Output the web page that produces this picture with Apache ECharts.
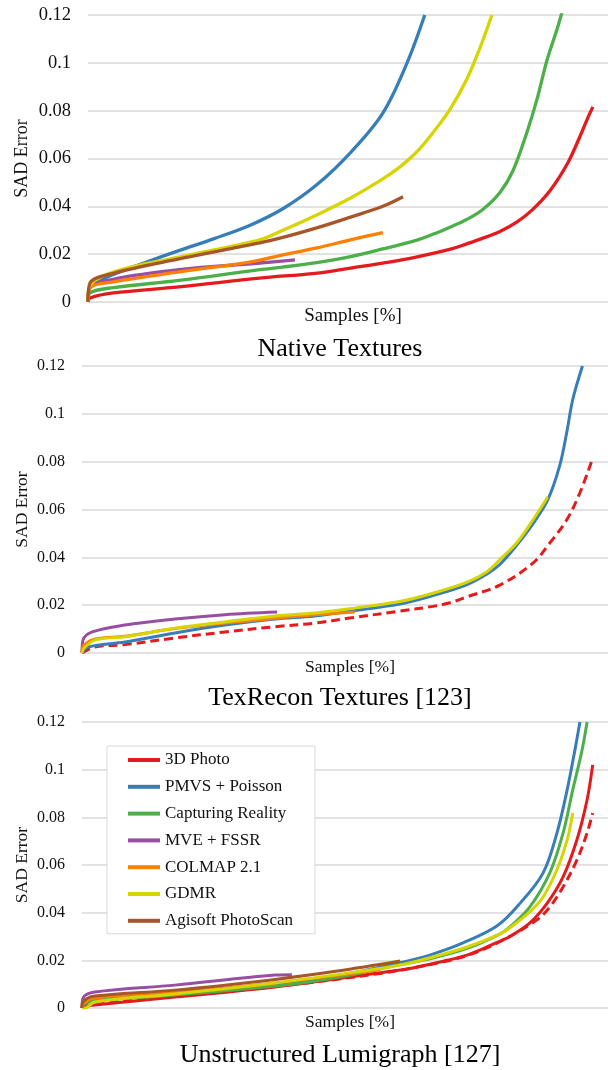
<!DOCTYPE html>
<html>
<head>
<meta charset="utf-8">
<script src="https://cdn.jsdelivr.net/npm/echarts@6/dist/echarts.min.js"></script>
<style>
  html, body { margin: 0; padding: 0; background: #fff; }
  #chart { width: 608px; height: 1070px; }
</style>
</head>
<body>
<div id="chart"></div>
<script>
// ---------- DATA ([samples %, SAD error]) ----------
const names = ['3D Photo', 'PMVS + Poisson', 'Capturing Reality', 'MVE + FSSR', 'COLMAP 2.1', 'GDMR', 'Agisoft PhotoScan'];
const panelTitles = ['Native Textures', 'TexRecon Textures [123]', 'Unstructured Lumigraph [127]'];
const yTicks = [0, 0.02, 0.04, 0.06, 0.08, 0.1, 0.12];

// Panel 1 : Native Textures
const red1 = [[0,0],[0.4,0.0017],[5,0.0038],[18,0.0063],[34,0.010],[45,0.012],[52,0.0142],[58.4,0.0163],[65,0.0188],[72,0.0222],[75,0.0243],[78,0.0265],[81.6,0.0295],[85,0.0335],[88,0.0385],[91.5,0.0465],[95,0.058],[97.4,0.069],[99,0.077],[100,0.0816]];
const blue1 = [[0,0],[0.3,0.0055],[1,0.0075],[5,0.0115],[12,0.017],[18,0.0215],[25,0.0265],[32,0.032],[38.6,0.039],[45.3,0.049],[52,0.0625],[58.4,0.079],[63.2,0.100],[66.7,0.12]];
const green1 = [[0,0],[0.4,0.0038],[5,0.006],[18,0.009],[34,0.0135],[38.6,0.0146],[45.3,0.0165],[52,0.019],[58.4,0.0222],[65,0.0258],[68.3,0.0283],[71.7,0.0313],[75,0.0345],[78.2,0.0387],[81.6,0.0458],[84.2,0.055],[86.9,0.0707],[88.9,0.0845],[90.9,0.101],[92.9,0.114],[94,0.122]];
const purple1 = [[0,0],[0.4,0.006],[5,0.0095],[18,0.0135],[34,0.0163],[41,0.0176]];
const orange1 = [[0,0],[0.4,0.006],[5,0.0084],[18,0.0126],[32,0.0167],[38.6,0.0197],[45.3,0.0226],[52,0.026],[58.4,0.029]];
const yellow1 = [[0,0],[0.3,0.0065],[5,0.0125],[18,0.0188],[34,0.026],[38.6,0.030],[45.3,0.0364],[52,0.0435],[58.4,0.0515],[61.8,0.0565],[65,0.0625],[68.3,0.0707],[71.7,0.0805],[75,0.093],[77.6,0.106],[80,0.12]];
const brown1 = [[0,0],[0.4,0.008],[5,0.012],[18,0.018],[34,0.0247],[38.6,0.027],[45.3,0.031],[52,0.0355],[58.4,0.040],[62.4,0.044]];

// Panel 2 : TexRecon Textures
const redDash2 = [[0,0],[2.5,0.0025],[8.4,0.0035],[18.2,0.0063],[28,0.0088],[37.8,0.011],[45.6,0.0125],[52.4,0.0146],[62.2,0.0175],[68.7,0.0195],[72,0.021],[75.3,0.0234],[81.8,0.0284],[88.3,0.0376],[91.6,0.046],[94.9,0.0556],[97.5,0.067],[100,0.0815]];
const blue2 = [[0,0],[1.2,0.0025],[8.4,0.0046],[18.2,0.0084],[28,0.0117],[37.8,0.0142],[45.6,0.0155],[52.4,0.0175],[62.2,0.0205],[68.7,0.024],[75.3,0.0285],[79.3,0.033],[81.8,0.037],[85.1,0.045],[88.3,0.054],[91.2,0.064],[93.5,0.078],[94.9,0.092],[96.1,0.106],[98,0.12]];
const purple2 = [[0,0],[0.2,0.0054],[2,0.0088],[8.4,0.0117],[18.2,0.0142],[28,0.016],[38.2,0.0171]];
const orange2 = [[0,0],[0.3,0.003],[2.5,0.0058],[8.4,0.007],[18.2,0.0102],[28,0.0125],[37.8,0.0145],[42.7,0.0155],[53.4,0.0171]];
const yellow2 = [[0,0],[0.4,0.002],[2.5,0.0054],[8.4,0.0068],[18.2,0.0104],[28,0.013],[37.8,0.0155],[45.6,0.0167],[52.4,0.0185],[55.8,0.0195],[62.2,0.0215],[68.7,0.025],[75.3,0.0295],[79.3,0.034],[81.8,0.039],[85.1,0.046],[88.3,0.0556],[91.2,0.0652]];

// Panel 3 : Unstructured Lumigraph
const redDash3 = [[0,0],[2.5,0.0015],[18.2,0.005],[37.8,0.009],[58.4,0.0145],[68.7,0.0185],[75.4,0.022],[81.8,0.0278],[89.1,0.037],[91.6,0.0424],[94.2,0.0508],[96.9,0.062],[98.9,0.0734],[100,0.0818]];
const red3 = [[0,0],[0.3,0.0008],[2.5,0.0013],[18.2,0.0046],[37.8,0.0088],[58.4,0.0148],[64.8,0.0168],[71.5,0.020],[75.4,0.0222],[77.9,0.0243],[81.8,0.028],[83.8,0.030],[87.7,0.0357],[91.1,0.044],[94.2,0.055],[96.9,0.0705],[98.9,0.0873],[100,0.102]];
const blue3 = [[0,0],[0.3,0.002],[2.5,0.0033],[18.2,0.0058],[37.8,0.0096],[50,0.0135],[62.3,0.019],[68.1,0.0222],[74.6,0.0273],[81.3,0.0345],[85.8,0.044],[90.3,0.0567],[93,0.0734],[95,0.0915],[96.5,0.108],[97.5,0.12]];
const green3 = [[0,0],[0.3,0.0015],[2.5,0.003],[18.2,0.0055],[37.8,0.0092],[50,0.0128],[62.3,0.0182],[68.7,0.021],[75.4,0.025],[81.8,0.031],[83.8,0.034],[87.7,0.0424],[91.6,0.0567],[94.2,0.0734],[96.1,0.0915],[97.9,0.108],[98.9,0.12]];
const purple3 = [[0,0],[0.2,0.0042],[2.5,0.0067],[18.2,0.0096],[37.8,0.0138],[41.1,0.0140]];
const orange3 = [[0,0],[0.3,0.002],[2.5,0.0042],[18.2,0.0065],[37.8,0.0105],[58.4,0.016]];
const yellow3 = [[0,0],[0.6,0],[2.5,0.0025],[18.2,0.0059],[37.8,0.0105],[50,0.014],[62.3,0.018],[68.7,0.0214],[75.4,0.0256],[81.8,0.031],[84,0.034],[88,0.041],[90.3,0.0466],[93,0.058],[95,0.0705],[96.1,0.0818]];
const brown3 = [[0,0],[0.2,0.0025],[2.5,0.005],[18.2,0.0075],[37.8,0.012],[50,0.0155],[62.3,0.0197]];

// ---------- STYLE ----------
const colors = { '3D Photo':'#e41a1c', 'PMVS + Poisson':'#377eb8', 'Capturing Reality':'#4daf4a', 'MVE + FSSR':'#984ea3', 'COLMAP 2.1':'#ff7f00', 'GDMR':'#d8d400', 'Agisoft PhotoScan':'#a65628' };
const FONT = '"Liberation Serif", "DejaVu Serif", serif';

const grids = [
  { left: 88, top: 15, right: 0, height: 287 },
  { left: 82, top: 366, right: 0, height: 287 },
  { left: 82, top: 722, right: 0, height: 286 }
];
const tickFont = [18.5, 16, 16];
const nameFont = [18, 17.5, 17.5];
const sampFont = [19, 17.5, 17.5];

function xAxis(i) {
  return {
    gridIndex: i, type: 'value', min: 0, max: 103,
    axisLine: { show: false }, axisTick: { show: false }, axisLabel: { show: false }, splitLine: { show: false },
    name: 'Samples [%]', nameLocation: 'middle', nameGap: 5, nameMoveOverlap: false,
    nameTextStyle: { fontFamily: FONT, fontSize: sampFont[i], color: '#111', padding: [0, 0, 0, 10] }
  };
}
function yAxis(i) {
  return {
    gridIndex: i, type: 'value', min: yTicks[0], max: yTicks[yTicks.length - 1], interval: 0.02,
    axisLine: { show: false }, axisTick: { show: false },
    axisLabel: { margin: 17, fontFamily: FONT, fontSize: tickFont[i], color: '#111',
      formatter: v => v === 0 ? '0' : String(+v.toFixed(2)) },
    splitLine: { lineStyle: { color: '#d9d9d9', width: 1.5 } },
    name: 'SAD Error', nameLocation: 'middle', nameRotate: 90, nameGap: i === 0 ? 57 : 51, nameMoveOverlap: false,
    nameTextStyle: { fontFamily: FONT, fontSize: nameFont[i], color: '#111' }
  };
}
function line(name, data, panel, opts) {
  opts = opts || {};
  return {
    type: 'line', name: opts.legendName || name, data: data,
    xAxisIndex: panel, yAxisIndex: panel,
    showSymbol: false, symbol: 'none', smooth: 0.35,
    lineStyle: { color: colors[name], width: panel === 0 ? 3.3 : 3, type: opts.dash ? [9, 5] : 'solid' },
    itemStyle: { color: colors[name] },
    clip: true, silent: true
  };
}

const series = [
  line('3D Photo', red1, 0), line('PMVS + Poisson', blue1, 0), line('Capturing Reality', green1, 0),
  line('MVE + FSSR', purple1, 0), line('COLMAP 2.1', orange1, 0), line('GDMR', yellow1, 0), line('Agisoft PhotoScan', brown1, 0),

  line('3D Photo', redDash2, 1, { dash: true, legendName: '3D Photo (reference)' }),
  line('PMVS + Poisson', blue2, 1), line('MVE + FSSR', purple2, 1), line('COLMAP 2.1', orange2, 1), line('GDMR', yellow2, 1),

  line('3D Photo', redDash3, 2, { dash: true, legendName: '3D Photo (reference)' }),
  line('3D Photo', red3, 2), line('PMVS + Poisson', blue3, 2), line('Capturing Reality', green3, 2),
  line('MVE + FSSR', purple3, 2), line('COLMAP 2.1', orange3, 2), line('GDMR', yellow3, 2), line('Agisoft PhotoScan', brown3, 2)
];

const titleTops = [336, 685, 1042];
const option = {
  animation: false,
  backgroundColor: '#fff',
  title: panelTitles.map((t, i) => ({
    text: t, left: 340, top: titleTops[i], textAlign: 'center', padding: 0,
    textStyle: { fontFamily: FONT, fontSize: 26, fontWeight: 'normal', color: '#000' }
  })),
  legend: {
    data: names, orient: 'vertical', left: 107, top: 746,
    icon: 'rect', itemWidth: 32, itemHeight: 4, itemGap: 8.8,
    textStyle: { fontFamily: FONT, fontSize: 17, color: '#111', lineHeight: 18 },
    borderColor: '#d9d9d9', borderWidth: 1, padding: [5, 22, 4, 21],
    backgroundColor: '#fff', selectedMode: false, z: 10
  },
  grid: grids,
  xAxis: [0, 1, 2].map(xAxis),
  yAxis: [0, 1, 2].map(yAxis),
  series: series
};

const chart = echarts.init(document.getElementById('chart'), null, { renderer: 'canvas' });
chart.setOption(option);
</script>
</body>
</html>
